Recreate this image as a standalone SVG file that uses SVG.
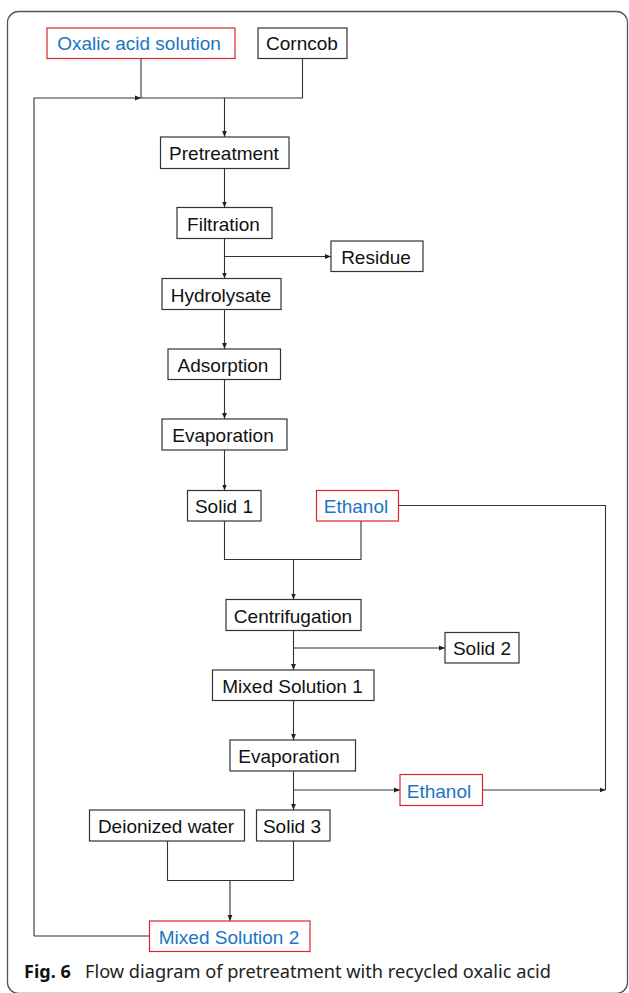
<svg xmlns="http://www.w3.org/2000/svg" width="629" height="993" viewBox="0 0 629 993">
<style>
.box{fill:#fff;stroke:#333;stroke-width:1.2}
.red{fill:#fff;stroke:#d9262c;stroke-width:1.2}
.t{font-family:"Liberation Sans",Arial,sans-serif;font-size:19px;fill:#111;text-anchor:middle}
.b{fill:#1a75c4}
.c{fill:none;stroke:#333;stroke-width:1.1}
.cap{font-family:"Noto Sans","Open Sans",sans-serif;font-size:18px;fill:#222}
</style>
<defs>
<marker id="a" viewBox="0 0 6 6" refX="6" refY="3" markerWidth="6" markerHeight="6" markerUnits="userSpaceOnUse" orient="auto">
<path d="M0,0.6 L6,3 L0,5.4 Z" fill="#222"/>
</marker>
</defs>
<rect x="7.5" y="11.5" width="620" height="982" rx="11" fill="none" stroke="#555" stroke-width="1.3"/>
<g id="connectors">
<path class="c" d="M141,58 V98"/>
<path class="c" d="M302.5,58 V98 H141"/>
<path class="c" d="M34,936 V98 H141" marker-end="url(#a)"/>
<path class="c" d="M224.5,98 V137" marker-end="url(#a)"/>
<path class="c" d="M224.5,168.5 V207.5" marker-end="url(#a)"/>
<path class="c" d="M224.5,238.5 V278.5" marker-end="url(#a)"/>
<path class="c" d="M224.5,256.5 H331" marker-end="url(#a)"/>
<path class="c" d="M224.5,309.5 V349" marker-end="url(#a)"/>
<path class="c" d="M224.5,379.5 V419" marker-end="url(#a)"/>
<path class="c" d="M224.5,450 V490.5" marker-end="url(#a)"/>
<path class="c" d="M224.5,521 V559.5 H361 V521"/>
<path class="c" d="M293.5,559.5 V599.5" marker-end="url(#a)"/>
<path class="c" d="M398.5,505.5 H605.5 V790"/>
<path class="c" d="M293.5,630.5 V670" marker-end="url(#a)"/>
<path class="c" d="M293.5,648 H445" marker-end="url(#a)"/>
<path class="c" d="M293.5,700.5 V740" marker-end="url(#a)"/>
<path class="c" d="M293.5,771.5 V810" marker-end="url(#a)"/>
<path class="c" d="M293.5,790 H400" marker-end="url(#a)"/>
<path class="c" d="M482.5,790 H605.5" marker-end="url(#a)"/>
<path class="c" d="M167.5,841 V880.5 H293.5 V841"/>
<path class="c" d="M230,880.5 V921" marker-end="url(#a)"/>
<path class="c" d="M149.5,936 H34"/>
</g>
<g id="oxalic"><rect class="red" x="47" y="28" width="188" height="30.5"/><text class="t b" x="139" y="50">Oxalic acid solution</text></g>
<g id="corncob"><rect class="box" x="258" y="28" width="89" height="30.5"/><text class="t" x="302" y="50">Corncob</text></g>
<g id="pretreatment"><rect class="box" x="160.5" y="137" width="128.5" height="31.5"/><text class="t" x="224" y="160">Pretreatment</text></g>
<g id="filtration"><rect class="box" x="177" y="207.5" width="95" height="31"/><text class="t" x="223.5" y="230.5">Filtration</text></g>
<g id="residue"><rect class="box" x="331" y="241" width="92" height="30.5"/><text class="t" x="376" y="263.5">Residue</text></g>
<g id="hydrolysate"><rect class="box" x="162" y="278.5" width="119" height="31"/><text class="t" x="221" y="301.5">Hydrolysate</text></g>
<g id="adsorption"><rect class="box" x="168" y="349" width="112.5" height="30.5"/><text class="t" x="223" y="371.5">Adsorption</text></g>
<g id="evaporation1"><rect class="box" x="162" y="419" width="125" height="31"/><text class="t" x="223" y="442">Evaporation</text></g>
<g id="solid1"><rect class="box" x="187.5" y="490.5" width="73.5" height="30.5"/><text class="t" x="224" y="513">Solid 1</text></g>
<g id="ethanol1"><rect class="red" x="316.5" y="490.5" width="82" height="30.5"/><text class="t b" x="356" y="513">Ethanol</text></g>
<g id="centrifugation"><rect class="box" x="226" y="599.5" width="135" height="31"/><text class="t" x="293" y="622.5">Centrifugation</text></g>
<g id="solid2"><rect class="box" x="445" y="632.5" width="74" height="30.5"/><text class="t" x="482" y="655">Solid 2</text></g>
<g id="mixed1"><rect class="box" x="212.5" y="670" width="161.5" height="30.5"/><text class="t" x="292.5" y="692.5">Mixed Solution 1</text></g>
<g id="evaporation2"><rect class="box" x="230" y="740" width="125.5" height="31"/><text class="t" x="289" y="763">Evaporation</text></g>
<g id="ethanol2"><rect class="red" x="400" y="774.5" width="82.5" height="31"/><text class="t b" x="439" y="797.5">Ethanol</text></g>
<g id="deionized"><rect class="box" x="89.5" y="810" width="155" height="31"/><text class="t" x="166" y="833">Deionized water</text></g>
<g id="solid3"><rect class="box" x="256.5" y="810" width="73.5" height="31"/><text class="t" x="292" y="833">Solid 3</text></g>
<g id="mixed2"><rect class="red" x="149.5" y="921" width="160.5" height="30.5"/><text class="t b" x="229" y="943.5">Mixed Solution 2</text></g>
<text class="cap" x="24" y="977.5"><tspan font-weight="bold" fill="#111">Fig. 6</tspan></text>
<text class="cap" x="85" y="977.5" textLength="466" lengthAdjust="spacingAndGlyphs">Flow diagram of pretreatment with recycled oxalic acid</text>
</svg>
